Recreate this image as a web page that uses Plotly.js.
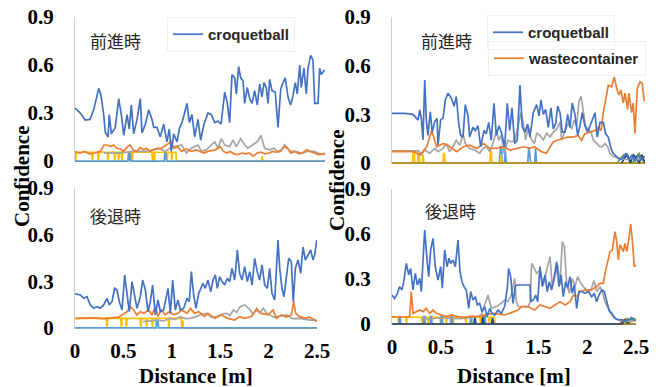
<!DOCTYPE html>
<html><head><meta charset="utf-8">
<script src="https://cdn.plot.ly/plotly-3.0.1.min.js"></script>
<style>html,body{margin:0;padding:0;background:#fff}#chart{width:660px;height:387px}</style>
</head><body><div id="chart"></div>
<script>
// ---------- Top-left: 前進時 (croquetball only) ----------
const tlBlueX = [0,0.055,0.106,0.155,0.193,0.245,0.268,0.296,0.313,0.341,0.354,0.375,0.416,0.451,0.478,0.503,0.537,0.56,0.581,0.606,0.64,0.674,0.691,0.726,0.761,0.795,0.812,0.846,0.88,0.915,0.949,0.973,0.994,1.018,1.053,1.076,1.104,1.156,1.18,1.207,1.235,1.269,1.297,1.331,1.373,1.407,1.442,1.476,1.507,1.545,1.572,1.596,1.62,1.648,1.665,1.689,1.71,1.734,1.751,1.778,1.803,1.827,1.854,1.881,1.906,1.93,1.95,1.974,1.992,2.009,2.033,2.067,2.095,2.123,2.147,2.17,2.198,2.226,2.25,2.273,2.294,2.319,2.335,2.363,2.387,2.405,2.432,2.456,2.474,2.508,2.525,2.542,2.577];
const tlBlueY = [0.33,0.30,0.256,0.26,0.32,0.454,0.41,0.29,0.18,0.15,0.29,0.17,0.21,0.39,0.29,0.16,0.29,0.2,0.35,0.17,0.26,0.39,0.175,0.23,0.32,0.26,0.21,0.21,0.15,0.23,0.12,0.2,0.06,0.17,0.12,0.2,0.24,0.36,0.24,0.29,0.15,0.26,0.13,0.23,0.3,0.29,0.24,0.25,0.23,0.43,0.36,0.24,0.54,0.52,0.42,0.59,0.52,0.5,0.36,0.46,0.39,0.36,0.44,0.35,0.48,0.40,0.49,0.46,0.36,0.51,0.44,0.43,0.21,0.45,0.49,0.52,0.4,0.35,0.41,0.49,0.42,0.6,0.46,0.58,0.42,0.58,0.66,0.63,0.36,0.36,0.58,0.54,0.57];
const tlOrangeX = [0,0.05,0.1,0.15,0.2,0.26,0.3,0.33,0.37,0.4,0.43,0.47,0.5,0.54,0.57,0.6,0.64,0.67,0.71,0.74,0.77,0.81,0.85,0.88,0.92,0.96,0.99,1.02,1.06,1.1,1.15,1.2,1.25,1.29,1.33,1.37,1.41,1.45,1.5,1.53,1.57,1.6,1.64,1.68,1.72,1.76,1.8,1.84,1.88,1.92,1.96,2.0,2.04,2.08,2.12,2.16,2.19,2.23,2.27,2.31,2.35,2.39,2.43,2.47,2.51,2.55,2.58];
const tlOrangeY = [0.058,0.05,0.06,0.045,0.05,0.06,0.1,0.1,0.09,0.1,0.08,0.075,0.06,0.09,0.1,0.07,0.06,0.085,0.07,0.08,0.06,0.07,0.08,0.075,0.09,0.11,0.12,0.08,0.09,0.06,0.075,0.06,0.07,0.06,0.05,0.06,0.065,0.07,0.09,0.06,0.05,0.06,0.045,0.04,0.05,0.045,0.05,0.03,0.05,0.055,0.045,0.05,0.06,0.055,0.06,0.09,0.085,0.05,0.06,0.045,0.05,0.07,0.06,0.05,0.04,0.045,0.04];
const tlGrayX = [0.3,0.45,0.6,0.73,0.8,0.87,0.93,0.98,1.03,1.1,1.15,1.2,1.27,1.304,1.355,1.407,1.441,1.476,1.51,1.545,1.596,1.63,1.665,1.71,1.751,1.785,1.837,1.88,1.92,1.957,2.01,2.05,2.095,2.13,2.164,2.215,2.267,2.336,2.4,2.47,2.54,2.58];
const tlGrayY = [0.05,0.05,0.06,0.06,0.07,0.08,0.06,0.08,0.09,0.1,0.05,0.08,0.1,0.06,0.07,0.1,0.12,0.08,0.14,0.1,0.09,0.13,0.09,0.14,0.1,0.08,0.1,0.12,0.16,0.08,0.07,0.08,0.06,0.07,0.1,0.06,0.06,0.05,0.06,0.06,0.04,0.05];
const tlYellowX = [0,0.006,0.014,0.172,0.18,0.188,0.232,0.24,0.248,0.332,0.34,0.348,0.402,0.41,0.418,0.442,0.45,0.458,0.477,0.485,0.493,0.582,0.59,0.598,0.792,0.8,0.808,0.812,0.82,0.828,0.942,0.95,0.958,0.992,1.0,1.008,1.04,1.046,1.925,1.932,1.94,2.58];
const tlYellowY = [0.055,0,0.055,0.055,0,0.055,0.055,0,0.055,0.055,0,0.055,0.055,0,0.055,0.055,0,0.055,0.055,0,0.055,0.055,0,0.055,0.055,0,0.055,0.055,0,0.055,0.055,0,0.055,0.055,0,0.055,0.055,0,0,0.03,0,0];
const tlLightX = [0,0.545,0.552,0.56,0.568,0.576,0.584,0.92,0.928,0.936,0.944,2.58];
const tlLightY = [0,0,0.05,0,0.05,0,0,0,0.05,0.05,0,0];

// ---------- Top-right: 前進時 (croquetball + wastecontainer) ----------
const trBlueX = [0,0.133,0.215,0.266,0.284,0.3,0.317,0.335,0.351,0.368,0.392,0.412,0.437,0.461,0.471,0.498,0.522,0.546,0.573,0.607,0.635,0.658,0.683,0.703,0.727,0.75,0.778,0.795,0.829,0.853,0.88,0.908,0.942,0.965,0.99,1.016,1.044,1.068,1.095,1.119,1.154,1.18,1.205,1.228,1.256,1.282,1.31,1.334,1.361,1.389,1.412,1.446,1.481,1.505,1.525,1.549,1.573,1.6,1.627,1.651,1.676,1.696,1.72,1.743,1.771,1.798,1.822,1.845,1.873,1.901,1.924,1.948,1.975,2.003,2.027,2.05,2.078,2.101,2.129,2.163,2.187,2.214,2.242,2.265,2.3,2.334,2.364,2.395,2.426,2.456,2.487,2.518,2.548,2.59];
const trBlueY = [0.306,0.306,0.30,0.265,0.327,0.275,0.142,0.512,0.27,0.17,0.316,0.19,0.255,0.275,0.11,0.265,0.275,0.388,0.43,0.40,0.35,0.41,0.245,0.17,0.16,0.36,0.29,0.16,0.22,0.2,0.23,0.1,0.2,0.18,0.25,0.14,0.368,0.17,0.23,0.19,0.1,0.368,0.2,0.34,0.12,0.14,0.48,0.22,0.19,0.24,0.16,0.31,0.36,0.29,0.388,0.3,0.33,0.22,0.34,0.21,0.245,0.35,0.31,0.19,0.19,0.3,0.22,0.37,0.3,0.17,0.23,0.31,0.23,0.19,0.23,0.27,0.31,0.16,0.25,0.25,0.18,0.16,0.09,0.06,0.04,0.02,0.03,0.06,0.02,0.05,0.01,0.05,0.02,0.04];
const trOrangeX = [0,0.218,0.287,0.355,0.406,0.457,0.525,0.594,0.662,0.73,0.798,0.867,0.935,1.003,1.07,1.14,1.208,1.276,1.344,1.412,1.46,1.53,1.58,1.62,1.65,1.69,1.75,1.8,1.856,1.907,1.94,1.975,2.027,2.078,2.112,2.14,2.163,2.187,2.214,2.249,2.275,2.3,2.323,2.344,2.368,2.385,2.412,2.425,2.453,2.47,2.487,2.511,2.538,2.562,2.582];
const trOrangeY = [0.07,0.07,0.05,0.1,0.2,0.1,0.12,0.1,0.07,0.1,0.11,0.09,0.12,0.09,0.09,0.1,0.08,0.09,0.1,0.09,0.1,0.07,0.06,0.1,0.13,0.14,0.15,0.16,0.16,0.17,0.14,0.18,0.19,0.2,0.22,0.2,0.31,0.39,0.48,0.47,0.53,0.46,0.42,0.45,0.37,0.43,0.33,0.43,0.31,0.37,0.18,0.46,0.50,0.49,0.38];
const trGrayX = [0,0.27,0.3,0.335,0.386,0.437,0.471,0.522,0.556,0.59,0.624,0.658,0.693,0.727,0.75,0.795,0.846,0.898,0.931,0.966,1.0,1.034,1.068,1.092,1.119,1.146,1.187,1.222,1.259,1.293,1.32,1.344,1.368,1.395,1.423,1.457,1.481,1.515,1.549,1.583,1.617,1.651,1.686,1.72,1.737,1.771,1.805,1.839,1.866,1.89,1.914,1.935,1.958,1.982,2.01,2.037,2.06,2.095,2.129,2.153,2.18,2.207,2.231,2.265,2.316,2.4,2.453,2.5,2.556];
const trGrayY = [0.075,0.075,0.05,0.08,0.06,0.09,0.07,0.09,0.12,0.07,0.1,0.14,0.11,0.18,0.12,0.09,0.08,0.06,0.09,0.1,0.07,0.12,0.2,0.14,0.17,0.06,0.14,0.13,0.142,0.23,0.31,0.245,0.142,0.225,0.15,0.12,0.183,0.17,0.142,0.183,0.16,0.19,0.21,0.25,0.142,0.2,0.245,0.21,0.265,0.225,0.38,0.41,0.33,0.225,0.21,0.19,0.142,0.12,0.1,0.1,0.12,0.1,0.06,0.04,0.03,0.02,0.03,0.02,0.03];
const trYellowX = [0,0.21,0.218,0.226,0.234,0.26,0.268,0.276,0.284,0.31,0.318,0.326,0.52,0.528,0.536,0.544,1.0,1.008,1.016,1.024,1.11,1.118,1.126,2.59];
const trYellowY = [0,0,0.07,0.07,0,0,0.06,0.06,0,0,0.05,0,0,0.06,0.06,0,0,0.07,0.07,0,0,0.05,0,0];
const trLightX = [0,1.1,1.11,1.12,1.13,1.15,1.16,1.17,1.39,1.4,1.41,1.42,1.46,1.47,1.48,2.59];
const trLightY = [0,0,0.1,0.1,0,0,0.08,0,0,0.1,0.06,0,0,0.09,0,0];
const trGreenX = [2.3,2.34,2.37,2.4,2.43,2.46,2.5,2.53,2.56,2.59];
const trGreenY = [0,0.03,0.05,0.05,0.02,0,0.04,0.06,0.02,0];
const trNavyX = [2.35,2.38,2.41,2.44,2.47,2.5,2.53,2.56,2.59];
const trNavyY = [0,0.03,0.05,0,0.05,0.03,0,0.05,0];
const trGoldX = [0,2.59];
const trGoldY = [0,0];

// ---------- Bottom-left: 後退時 ----------
const blBlueX = [0,0.055,0.09,0.124,0.158,0.193,0.227,0.262,0.296,0.331,0.355,0.382,0.41,0.434,0.458,0.486,0.513,0.537,0.561,0.589,0.617,0.64,0.675,0.699,0.727,0.754,0.778,0.802,0.83,0.857,0.882,0.916,0.961,0.985,1.009,1.036,1.064,1.088,1.123,1.157,1.181,1.202,1.226,1.25,1.278,1.305,1.322,1.346,1.374,1.402,1.426,1.45,1.47,1.495,1.519,1.546,1.573,1.598,1.622,1.65,1.677,1.701,1.725,1.753,1.78,1.805,1.829,1.856,1.883,1.908,1.932,1.96,1.987,2.011,2.035,2.063,2.08,2.097,2.115,2.138,2.159,2.183,2.208,2.235,2.255,2.276,2.304,2.332,2.355,2.379,2.407,2.435,2.459,2.476,2.497];
const blBlueY = [0.219,0.212,0.191,0.201,0.148,0.127,0.137,0.127,0.148,0.191,0.148,0.169,0.255,0.244,0.169,0.116,0.341,0.233,0.105,0.298,0.191,0.127,0.201,0.308,0.244,0.105,0.169,0.276,0.084,0.18,0.105,0.116,0.255,0.094,0.308,0.116,0.18,0.116,0.127,0.191,0.169,0.362,0.212,0.127,0.223,0.266,0.287,0.255,0.308,0.233,0.308,0.341,0.255,0.33,0.298,0.276,0.319,0.298,0.383,0.308,0.501,0.351,0.308,0.394,0.298,0.362,0.276,0.448,0.362,0.308,0.405,0.276,0.255,0.383,0.223,0.18,0.415,0.565,0.383,0.255,0.201,0.308,0.448,0.426,0.169,0.383,0.437,0.351,0.522,0.437,0.469,0.501,0.437,0.469,0.565];
const blOrangeX = [0,0.1,0.2,0.3,0.4,0.45,0.486,0.537,0.571,0.606,0.64,0.675,0.71,0.76,0.795,0.83,0.857,0.892,0.933,0.975,1.02,1.064,1.105,1.157,1.192,1.236,1.278,1.339,1.374,1.443,1.512,1.58,1.65,1.7,1.753,1.82,1.873,1.925,1.994,2.046,2.08,2.132,2.183,2.235,2.259,2.28,2.32,2.373,2.424,2.476,2.5];
const blOrangeY = [0.062,0.062,0.065,0.06,0.065,0.07,0.084,0.105,0.137,0.116,0.084,0.105,0.094,0.116,0.084,0.137,0.075,0.116,0.084,0.105,0.084,0.094,0.116,0.094,0.127,0.094,0.105,0.073,0.094,0.062,0.084,0.062,0.051,0.073,0.062,0.073,0.116,0.094,0.084,0.116,0.062,0.084,0.07,0.084,0.169,0.094,0.073,0.062,0.07,0.051,0.041];
const blGrayX = [0.7,0.844,0.92,0.981,1.04,1.085,1.14,1.188,1.24,1.291,1.36,1.41,1.463,1.52,1.567,1.6,1.636,1.67,1.705,1.756,1.808,1.84,1.877,1.91,1.946,1.98,2.015,2.05,2.084,2.13,2.187,2.25,2.324,2.38,2.428,2.497];
const blGrayY = [0.04,0.051,0.045,0.062,0.055,0.073,0.06,0.062,0.07,0.084,0.094,0.07,0.073,0.09,0.094,0.08,0.116,0.1,0.137,0.148,0.116,0.09,0.127,0.1,0.127,0.095,0.084,0.07,0.073,0.08,0.084,0.06,0.062,0.055,0.051,0.051];
const blYellowX = [0,0.322,0.33,0.338,0.472,0.48,0.488,0.522,0.53,0.538,0.672,0.68,0.688,0.732,0.74,0.748,0.792,0.8,0.808,0.832,0.84,0.848,0.962,0.97,0.978,1.097,1.105,1.113,1.12,2.5];
const blYellowY = [0.062,0.062,0,0.062,0.062,0,0.062,0.062,0,0.062,0.062,0,0.062,0.062,0,0.062,0.062,0,0.062,0.062,0,0.062,0.062,0,0.062,0.062,0,0.05,0,0];
const blLightX = [0,0.84,0.848,0.856,0.864,2.5];
const blLightY = [0,0,0.05,0.05,0,0];

// ---------- Bottom-right: 後退時 ----------
const brBlueX = [0,0.027,0.055,0.079,0.102,0.123,0.147,0.171,0.191,0.215,0.239,0.26,0.284,0.301,0.318,0.335,0.359,0.376,0.396,0.42,0.444,0.471,0.499,0.515,0.54,0.564,0.584,0.601,0.625,0.649,0.676,0.697,0.717,0.738,0.761,0.786,0.806,0.83,0.854,0.874,0.898,0.922,0.95,0.973,1.001,1.025,1.052,1.086,1.12,1.154,1.181,1.195,1.216,1.24,1.263,1.278,1.294,1.414,1.424,1.448,1.472,1.493,1.516,1.54,1.568,1.591,1.612,1.636,1.663,1.687,1.711,1.732,1.755,1.78,1.8,1.824,1.847,1.868,1.892,1.916,1.944,1.977,2.011,2.046,2.073,2.097,2.121,2.149,2.175,2.2,2.223,2.251,2.285,2.319,2.353,2.387,2.421,2.456,2.483];
const brBlueY = [0.193,0.17,0.204,0.249,0.227,0.293,0.404,0.327,0.37,0.227,0.338,0.26,0.304,0.216,0.427,0.627,0.427,0.316,0.493,0.571,0.382,0.293,0.382,0.238,0.493,0.382,0.438,0.404,0.427,0.382,0.56,0.349,0.282,0.249,0.227,0.104,0.216,0.16,0.182,0.127,0.138,0.082,0.116,0.049,0.104,0.071,0.06,0.093,0.071,0.116,0.238,0.37,0.316,0.138,0.249,0.26,0.26,0.26,0.149,0.16,0.193,0.149,0.382,0.249,0.327,0.216,0.282,0.227,0.316,0.416,0.249,0.327,0.182,0.282,0.238,0.316,0.204,0.26,0.104,0.216,0.216,0.204,0.216,0.182,0.204,0.149,0.193,0.227,0.216,0.16,0.093,0.071,0.038,0.027,0.03,0.02,0.027,0.038,0.03];
const brOrangeX = [0,0.096,0.181,0.198,0.215,0.249,0.284,0.318,0.352,0.386,0.42,0.454,0.505,0.556,0.608,0.676,0.744,0.813,0.881,0.95,1.018,1.086,1.154,1.222,1.291,1.329,1.397,1.431,1.465,1.516,1.568,1.619,1.67,1.721,1.773,1.824,1.858,1.892,1.926,1.977,2.011,2.063,2.097,2.131,2.165,2.182,2.21,2.234,2.257,2.285,2.302,2.319,2.336,2.353,2.37,2.387,2.404,2.421,2.446,2.462,2.483,2.497];
const brOrangeY = [0.049,0.045,0.049,0.216,0.071,0.082,0.093,0.082,0.104,0.071,0.093,0.071,0.06,0.049,0.06,0.049,0.044,0.053,0.049,0.06,0.071,0.067,0.06,0.076,0.093,0.116,0.116,0.104,0.093,0.127,0.116,0.104,0.127,0.149,0.127,0.149,0.193,0.182,0.216,0.227,0.216,0.238,0.249,0.271,0.271,0.338,0.427,0.482,0.493,0.616,0.549,0.427,0.527,0.505,0.482,0.538,0.482,0.538,0.667,0.56,0.382,0.393];
const brGrayX = [0.3,0.5,0.7,0.85,0.915,0.984,1.018,1.069,1.12,1.154,1.188,1.222,1.257,1.274,1.294,1.397,1.414,1.431,1.458,1.482,1.516,1.55,1.585,1.619,1.643,1.67,1.698,1.721,1.745,1.766,1.79,1.817,1.848,1.875,1.902,1.926,1.96,1.995,2.039,2.07,2.097,2.131,2.155,2.182,2.216,2.251,2.285,2.319,2.387,2.49];
const brGrayY = [0.03,0.04,0.035,0.045,0.06,0.193,0.104,0.116,0.138,0.16,0.149,0.193,0.304,0.149,0.116,0.116,0.149,0.404,0.371,0.338,0.36,0.26,0.36,0.449,0.249,0.316,0.393,0.26,0.549,0.516,0.271,0.204,0.304,0.249,0.316,0.282,0.249,0.227,0.227,0.29,0.216,0.249,0.216,0.149,0.104,0.06,0.038,0.027,0.02,0.02];
const brYellowX = [0,0.06,0.068,0.076,0.14,0.148,0.156,0.3,0.308,0.316,0.36,0.368,0.376,0.49,0.498,0.506,0.55,0.558,0.566,0.62,0.628,0.636,0.75,0.758,0.766,0.9,0.908,0.916,0.99,0.998,1.006,1.05,1.058,2.5];
const brYellowY = [0.045,0.045,0,0.045,0.045,0,0.045,0.045,0,0.045,0.045,0,0.045,0.045,0,0.045,0.045,0,0.045,0.045,0,0.045,0.045,0,0.045,0.045,0,0.045,0.045,0,0.045,0.045,0,0];
const brLightX = [0,0.07,0.075,0.085,0.09,0.32,0.325,0.335,0.34,0.39,0.395,0.405,0.41,0.5,0.505,0.515,0.52,0.6,0.605,0.615,0.62,0.8,0.805,0.815,0.82,0.94,0.945,0.955,0.96,2.5];
const brLightY = [0,0,0.05,0.05,0,0,0.05,0.05,0,0,0.05,0.05,0,0,0.05,0.05,0,0,0.05,0.05,0,0,0.05,0.05,0,0,0.05,0.05,0,0];
const brNavyX = [0,0.84,0.85,0.86,0.92,0.93,0.94,1.02,1.03,1.04,2.36,2.39,2.42,2.45,2.48,2.5];
const brNavyY = [0,0,0.05,0,0,0.05,0,0,0.04,0,0,0.03,0,0.04,0.02,0.03];
const brGreenX = [2.38,2.41,2.44,2.47,2.5];
const brGreenY = [0,0.04,0.01,0.04,0.03];
const brBrownX = [2.33,2.36,2.39,2.42];
const brBrownY = [0,0.02,0.03,0];
const brGoldX = [0,2.5];
const brGoldY = [0,0];

const seriesNames = ['croquetball','wastecontainer'];
const yTicks = [0,0.3,0.6,0.9];
const yTickText = ['0','0.3','0.6','0.9'];
const xTicks = [0,0.5,1,1.5,2,2.5];
const xTickText = ['0','0.5','1','1.5','2','2.5'];
const panelLabels = ['前進時','前進時','後退時','後退時'];

const C = {blue:'#4472C4', orange:'#ED7D31', gray:'#A5A5A5', yellow:'#FFC000', light:'#5B9BD5', green:'#70AD47', navy:'#264478', brown:'#9E480E', gold:'#A88A2A'};

function tr(x, y, color, xa, ya, opts) {
  return Object.assign({x:x, y:y, type:'scatter', mode:'lines', xaxis:xa, yaxis:ya,
    line:{color:color, width:1.7}, showlegend:false, hoverinfo:'skip'}, opts||{});
}

const data = [
  // top-left
  tr(tlYellowX, tlYellowY, C.yellow, 'x', 'y'),
  tr(tlLightX, tlLightY, C.light, 'x', 'y'),
  tr(tlGrayX, tlGrayY, C.gray, 'x', 'y'),
  tr(tlOrangeX, tlOrangeY, C.orange, 'x', 'y'),
  tr(tlBlueX, tlBlueY, C.blue, 'x', 'y', {name:seriesNames[0], showlegend:true, legend:'legend'}),
  // top-right
  tr(trLightX, trLightY, C.light, 'x2', 'y2'),
  tr(trYellowX, trYellowY, C.yellow, 'x2', 'y2'),
  tr(trGoldX, trGoldY, C.gold, 'x2', 'y2'),
  tr(trGreenX, trGreenY, C.green, 'x2', 'y2'),
  tr(trNavyX, trNavyY, C.navy, 'x2', 'y2'),
  tr(trGrayX, trGrayY, C.gray, 'x2', 'y2'),
  tr(trOrangeX, trOrangeY, C.orange, 'x2', 'y2', {name:seriesNames[1], showlegend:true, legend:'legend3'}),
  tr(trBlueX, trBlueY, C.blue, 'x2', 'y2', {name:seriesNames[0], showlegend:true, legend:'legend2'}),
  // bottom-left
  tr(blYellowX, blYellowY, C.yellow, 'x3', 'y3'),
  tr(blLightX, blLightY, C.light, 'x3', 'y3'),
  tr(blGrayX, blGrayY, C.gray, 'x3', 'y3'),
  tr(blOrangeX, blOrangeY, C.orange, 'x3', 'y3'),
  tr(blBlueX, blBlueY, C.blue, 'x3', 'y3'),
  // bottom-right
  tr(brYellowX, brYellowY, C.yellow, 'x4', 'y4'),
  tr(brLightX, brLightY, C.light, 'x4', 'y4'),
  tr(brGoldX, brGoldY, C.gold, 'x4', 'y4'),
  tr(brNavyX, brNavyY, C.navy, 'x4', 'y4'),
  tr(brGreenX, brGreenY, C.green, 'x4', 'y4'),
  tr(brBrownX, brBrownY, C.brown, 'x4', 'y4'),
  tr(brGrayX, brGrayY, C.gray, 'x4', 'y4'),
  tr(brOrangeX, brOrangeY, C.orange, 'x4', 'y4'),
  tr(brBlueX, brBlueY, C.blue, 'x4', 'y4')
];

const tickFont = {family:'Liberation Serif', size:21, color:'#000', weight:'bold'};
function yax(domain) {
  return {domain:domain, range:[-0.008,0.9], tickvals:yTicks, ticktext:yTickText, showgrid:false, zeroline:false,
    showline:true, linecolor:'#D0D0D0', linewidth:1, ticks:'', ticklabelstandoff:16, tickfont:tickFont, fixedrange:true};
}
function xax(domain, range, labels, anchor) {
  return {domain:domain, range:range, anchor:anchor, tickvals:xTicks, ticktext:xTickText, showticklabels:labels,
    showgrid:false, zeroline:false, showline:false, ticks:'', ticklabelstandoff:7, tickfont:tickFont, fixedrange:true};
}
const legFont = {family:'Liberation Sans', size:15, color:'#262626', weight:'bold'};
function leg(x, y) {
  return {x:x, y:y, xanchor:'left', yanchor:'top', bgcolor:'rgba(255,255,255,0)', bordercolor:'#F0F0F0', borderwidth:1,
    font:legFont, itemwidth:30, tracegroupgap:0};
}
const cjk = {family:'Noto Sans CJK JP', size:17, color:'#262626'};
const titleFont = {family:'Liberation Serif', size:21, color:'#000', weight:'bold'};
function ann(text, px, py, font, angle) {
  return {text:text, x:px/660, y:1-py/387, xref:'paper', yref:'paper', xanchor:'center', yanchor:'middle',
    showarrow:false, font:font, textangle:angle||0};
}

const layout = {
  width:660, height:387, margin:{l:0,r:0,t:0,b:0}, paper_bgcolor:'#fff', plot_bgcolor:'rgba(0,0,0,0)',
  xaxis: xax([75/660, 325/660], [0,2.58], false, 'y'),
  yaxis: Object.assign(yax([0.5806, 0.9561]), {anchor:'x'}),
  xaxis2: xax([392/660, 645/660], [0,2.59], false, 'y2'),
  yaxis2: Object.assign(yax([0.5755, 0.9561]), {anchor:'x2'}),
  xaxis3: xax([75/660, 317/660], [0,2.5], true, 'y3'),
  yaxis3: Object.assign(yax([0.1493, 0.5142]), {anchor:'x3'}),
  xaxis4: xax([392/660, 636/660], [0,2.5], true, 'y4'),
  yaxis4: Object.assign(yax([0.1597, 0.5116]), {anchor:'x4'}),
  legend: leg(167/660, 1-17/387),
  legend2: leg(487/660, 1-15/387),
  legend3: leg(488/660, 1-41/387),
  annotations: [
    ann(panelLabels[0], 115.5, 40, cjk),
    ann(panelLabels[1], 446.5, 40, cjk),
    ann(panelLabels[2], 115.5, 215, cjk),
    ann(panelLabels[3], 450.5, 210, cjk),
    ann('Confidence', 22, 176, titleFont, -90),
    ann('Confidence', 337, 180, titleFont, -90),
    ann('Distance [m]', 196, 376, titleFont),
    ann('Distance [m]', 514, 376, titleFont)
  ]
};

Plotly.newPlot('chart', data, layout, {staticPlot:true, displayModeBar:false});
</script>
</body></html>
